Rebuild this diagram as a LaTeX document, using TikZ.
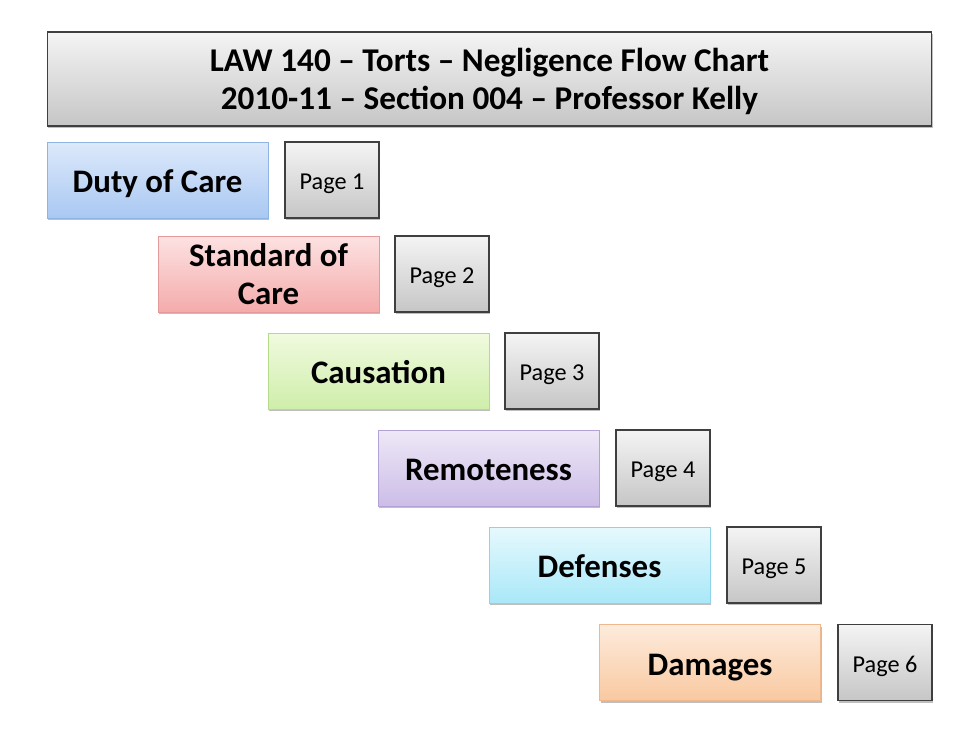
\documentclass[tikz,border=0pt]{standalone}
\usepackage{fontspec}
\setmainfont{Carlito}
\usepackage{tikz}
\usetikzlibrary{shadows}
\usepackage{xcolor}

\definecolor{dutyTop}{HTML}{DDE9FB}\definecolor{dutyBot}{HTML}{A9C8F2}\definecolor{dutyLine}{HTML}{8FB4E3}
\definecolor{stdTop}{HTML}{FDE2E2}\definecolor{stdBot}{HTML}{F4ABAB}\definecolor{stdLine}{HTML}{E39A9A}
\definecolor{causTop}{HTML}{F0FADF}\definecolor{causBot}{HTML}{CFEEAA}\definecolor{causLine}{HTML}{B5DA8C}
\definecolor{remTop}{HTML}{EEE8F7}\definecolor{remBot}{HTML}{CCBDE7}\definecolor{remLine}{HTML}{B3A2D5}
\definecolor{defTop}{HTML}{E6F9FD}\definecolor{defBot}{HTML}{A9E8F8}\definecolor{defLine}{HTML}{8FD3E8}
\definecolor{damTop}{HTML}{FDEBDC}\definecolor{damBot}{HTML}{F9C9A1}\definecolor{damLine}{HTML}{EFB88C}
\definecolor{pgTop}{HTML}{F4F4F4}\definecolor{pgBot}{HTML}{C6C6C6}\definecolor{pgLine}{HTML}{3F3F3F}

\begin{document}
\begin{tikzpicture}[x=0.02cm, y=-0.02cm,
  boxshadow/.style={drop shadow={shadow xshift=0.8pt, shadow yshift=-1.2pt, opacity=0.25, fill=black}},
  topic/.style={boxshadow, draw=#1Line, top color=#1Top, bottom color=#1Bot, line width=0.5pt,
    minimum width=4.42cm, minimum height=1.52cm, inner sep=0pt, align=center,
    font=\fontsize{18.7}{22}\selectfont\bfseries},
  oneline/.style={text height=14.3pt, text depth=0pt},
  pagebox/.style={boxshadow, draw=pgLine, top color=pgTop, bottom color=pgBot, line width=0.6pt,
    minimum width=1.88cm, minimum height=1.52cm, inner sep=0pt,
    text height=11.2pt, text depth=0pt, font=\fontsize{13.8}{15}\selectfont}]
  \useasboundingbox (0,0) rectangle (980,735);
  % heading
  \node[boxshadow, draw=pgLine, top color=pgTop, bottom color=pgBot, line width=0.6pt,
    minimum width=17.7cm, minimum height=1.88cm, inner sep=0pt, align=center, text depth=-3pt,
    font=\fontsize{18.9}{22}\selectfont\bfseries] (title) at (489.5,79)
    {LAW 140 -- Torts -- Negligence Flow Chart\\2010-11 -- Section 004 -- Professor Kelly};
  % topics and their pages
  \node[topic=duty, oneline] (duty) at (157.5,180) {Duty of Care};
  \node[pagebox] (page1) at (332,180) {Page 1};
  \node[topic=std, text depth=-3pt] (standard) at (268.5,274) {Standard of\\Care};
  \node[pagebox] (page2) at (442,274) {Page 2};
  \node[topic=caus, oneline] (causation) at (378.5,371) {Causation};
  \node[pagebox] (page3) at (552,371) {Page 3};
  \node[topic=rem, oneline] (remoteness) at (488.5,468) {Remoteness};
  \node[pagebox] (page4) at (663,468) {Page 4};
  \node[topic=def, oneline] (defenses) at (599.5,565) {Defenses};
  \node[pagebox] (page5) at (774,565) {Page 5};
  \node[topic=dam, oneline] (damages) at (710,662.5) {Damages};
  \node[pagebox] (page6) at (885,662.5) {Page 6};
\end{tikzpicture}
\end{document}
